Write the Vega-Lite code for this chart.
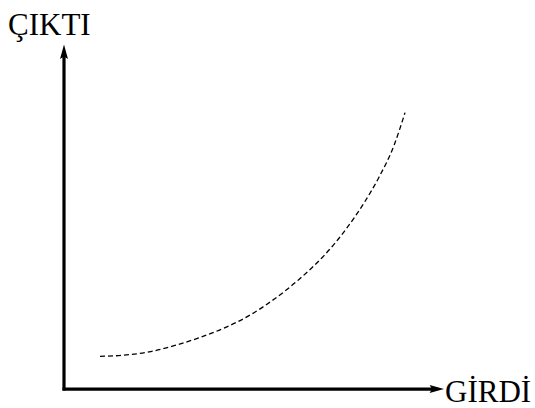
{
  "$schema": "https://vega.github.io/schema/vega-lite/v6.json",
  "width": 535,
  "height": 408,
  "autosize": {"type": "fit", "contains": "padding"},
  "padding": 0,
  "background": "white",
  "config": {"view": {"stroke": null}},
  "datasets": {
    "curve": [
      {"x": 36, "y": 33}, {"x": 60, "y": 34.2}, {"x": 85, "y": 37.5}, {"x": 110, "y": 43.7},
      {"x": 135, "y": 51.7}, {"x": 160, "y": 61.5}, {"x": 185, "y": 74}, {"x": 210, "y": 90.5},
      {"x": 235, "y": 110.5}, {"x": 260, "y": 134.5}, {"x": 280, "y": 158.5}, {"x": 300, "y": 187.5},
      {"x": 315, "y": 213.5}, {"x": 330, "y": 245.5}, {"x": 341, "y": 278.5}
    ],
    "axes": [
      {"x": 0, "y": -1.5, "x2": 0, "y2": 336},
      {"x": -1.5, "y": 0, "x2": 372, "y2": 0}
    ],
    "heads": [
      {"x": 0, "y": 339, "dir": "up"},
      {"x": 372, "y": 0, "dir": "right"}
    ],
    "labels": [
      {"x": -56, "y": 357, "text": "ÇIKTI"},
      {"x": 381, "y": -13, "text": "GİRDİ"}
    ]
  },
  "resolve": {"scale": {"x": "shared", "y": "shared"}},
  "layer": [
    {
      "data": {"name": "axes"},
      "mark": {"type": "rule", "strokeWidth": 3.2, "color": "black"},
      "encoding": {
        "x": {"field": "x", "type": "quantitative", "scale": {"domain": [-64, 471], "nice": false, "zero": false}, "axis": null},
        "y": {"field": "y", "type": "quantitative", "scale": {"domain": [-16, 392], "nice": false, "zero": false}, "axis": null},
        "x2": {"field": "x2"},
        "y2": {"field": "y2"}
      }
    },
    {
      "data": {"name": "heads"},
      "transform": [{"filter": "datum.dir == 'up'"}],
      "mark": {"type": "point", "filled": true, "color": "black", "opacity": 1, "size": 256, "shape": "M0,-1L0.5,0.8L0,0.5L-0.5,0.8Z"},
      "encoding": {
        "x": {"field": "x", "type": "quantitative"},
        "y": {"field": "y", "type": "quantitative"}
      }
    },
    {
      "data": {"name": "heads"},
      "transform": [{"filter": "datum.dir == 'right'"}],
      "mark": {"type": "point", "filled": true, "color": "black", "opacity": 1, "size": 256, "shape": "M1,0L-0.8,0.5L-0.5,0L-0.8,-0.5Z"},
      "encoding": {
        "x": {"field": "x", "type": "quantitative"},
        "y": {"field": "y", "type": "quantitative"}
      }
    },
    {
      "data": {"name": "curve"},
      "mark": {"type": "line", "interpolate": "monotone", "color": "black", "strokeWidth": 1.3, "strokeDash": [5, 3]},
      "encoding": {
        "x": {"field": "x", "type": "quantitative"},
        "y": {"field": "y", "type": "quantitative"}
      }
    },
    {
      "data": {"name": "labels"},
      "mark": {"type": "text", "align": "left", "baseline": "alphabetic", "font": "Liberation Serif", "fontSize": 31, "color": "black"},
      "encoding": {
        "x": {"field": "x", "type": "quantitative"},
        "y": {"field": "y", "type": "quantitative"},
        "text": {"field": "text"}
      }
    }
  ]
}
